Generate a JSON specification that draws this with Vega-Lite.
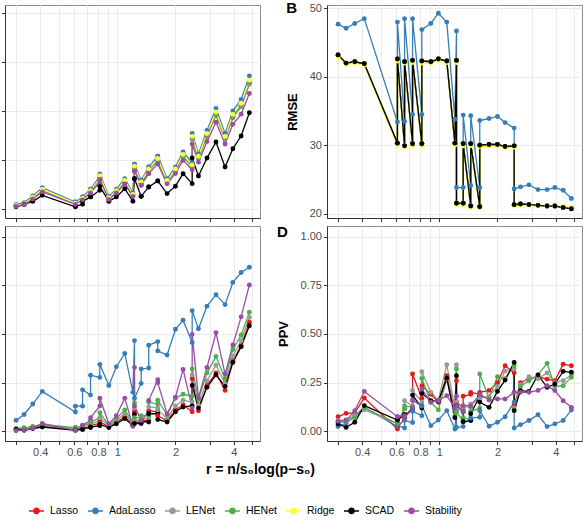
{
  "$schema": "https://vega.github.io/schema/vega-lite/v6.json",
  "padding": {"left": 0, "top": 0, "right": 0, "bottom": 0},
  "background": "white",
  "datasets": {
    "d": [
      {"panel":"A","idx":1,"r":0.3,"Lasso":0.013,"AdaLasso":0.022,"LENet":0.013,"HENet":0.014,"Ridge":0.017,"SCAD":0.009,"Stability":0.012},
      {"panel":"A","idx":2,"r":0.33,"Lasso":0.021,"AdaLasso":0.031,"LENet":0.021,"HENet":0.022,"Ridge":0.025,"SCAD":0.022,"Stability":0.019},
      {"panel":"A","idx":3,"r":0.366,"Lasso":0.054,"AdaLasso":0.065,"LENet":0.054,"HENet":0.055,"Ridge":0.058,"SCAD":0.037,"Stability":0.049},
      {"panel":"A","idx":4,"r":0.41,"Lasso":0.094,"AdaLasso":0.107,"LENet":0.094,"HENet":0.096,"Ridge":0.099,"SCAD":0.068,"Stability":0.086},
      {"panel":"A","idx":5,"r":0.608,"Lasso":0.024,"AdaLasso":0.034,"LENet":0.024,"HENet":0.025,"Ridge":0.028,"SCAD":0.009,"Stability":0.022},
      {"panel":"A","idx":6,"r":0.608,"Lasso":0.024,"AdaLasso":0.034,"LENet":0.024,"HENet":0.025,"Ridge":0.028,"SCAD":0.012,"Stability":0.022},
      {"panel":"A","idx":7,"r":0.662,"Lasso":0.049,"AdaLasso":0.06,"LENet":0.049,"HENet":0.05,"Ridge":0.053,"SCAD":0.022,"Stability":0.045},
      {"panel":"A","idx":8,"r":0.662,"Lasso":0.049,"AdaLasso":0.06,"LENet":0.049,"HENet":0.05,"Ridge":0.053,"SCAD":0.037,"Stability":0.045},
      {"panel":"A","idx":9,"r":0.728,"Lasso":0.087,"AdaLasso":0.1,"LENet":0.087,"HENet":0.089,"Ridge":0.092,"SCAD":0.06,"Stability":0.08},
      {"panel":"A","idx":10,"r":0.728,"Lasso":0.087,"AdaLasso":0.1,"LENet":0.087,"HENet":0.089,"Ridge":0.092,"SCAD":0.06,"Stability":0.08},
      {"panel":"A","idx":11,"r":0.813,"Lasso":0.149,"AdaLasso":0.165,"LENet":0.149,"HENet":0.151,"Ridge":0.156,"SCAD":0.094,"Stability":0.137},
      {"panel":"A","idx":12,"r":0.813,"Lasso":0.161,"AdaLasso":0.178,"LENet":0.161,"HENet":0.163,"Ridge":0.169,"SCAD":0.114,"Stability":0.149},
      {"panel":"A","idx":13,"r":0.905,"Lasso":0.052,"AdaLasso":0.063,"LENet":0.052,"HENet":0.053,"Ridge":0.056,"SCAD":0.037,"Stability":0.047},
      {"panel":"A","idx":14,"r":0.99,"Lasso":0.087,"AdaLasso":0.1,"LENet":0.087,"HENet":0.089,"Ridge":0.092,"SCAD":0.06,"Stability":0.08},
      {"panel":"A","idx":15,"r":1.094,"Lasso":0.137,"AdaLasso":0.153,"LENet":0.138,"HENet":0.14,"Ridge":0.144,"SCAD":0.102,"Stability":0.127},
      {"panel":"A","idx":16,"r":1.205,"Lasso":0.068,"AdaLasso":0.08,"LENet":0.068,"HENet":0.07,"Ridge":0.073,"SCAD":0.038,"Stability":0.062},
      {"panel":"A","idx":17,"r":1.228,"Lasso":0.209,"AdaLasso":0.228,"LENet":0.209,"HENet":0.212,"Ridge":0.217,"SCAD":0.153,"Stability":0.193},
      {"panel":"A","idx":18,"r":1.228,"Lasso":0.209,"AdaLasso":0.228,"LENet":0.209,"HENet":0.212,"Ridge":0.217,"SCAD":0.153,"Stability":0.193},
      {"panel":"A","idx":19,"r":1.33,"Lasso":0.13,"AdaLasso":0.145,"LENet":0.13,"HENet":0.132,"Ridge":0.137,"SCAD":0.063,"Stability":0.12},
      {"panel":"A","idx":20,"r":1.33,"Lasso":0.13,"AdaLasso":0.145,"LENet":0.13,"HENet":0.132,"Ridge":0.137,"SCAD":0.063,"Stability":0.12},
      {"panel":"A","idx":21,"r":1.455,"Lasso":0.195,"AdaLasso":0.213,"LENet":0.195,"HENet":0.198,"Ridge":0.203,"SCAD":0.111,"Stability":0.18},
      {"panel":"A","idx":22,"r":1.455,"Lasso":0.195,"AdaLasso":0.213,"LENet":0.195,"HENet":0.198,"Ridge":0.203,"SCAD":0.111,"Stability":0.18},
      {"panel":"A","idx":23,"r":1.62,"Lasso":0.248,"AdaLasso":0.269,"LENet":0.248,"HENet":0.251,"Ridge":0.257,"SCAD":0.142,"Stability":0.229},
      {"panel":"A","idx":24,"r":1.62,"Lasso":0.248,"AdaLasso":0.269,"LENet":0.248,"HENet":0.251,"Ridge":0.257,"SCAD":0.142,"Stability":0.229},
      {"panel":"A","idx":25,"r":1.81,"Lasso":0.137,"AdaLasso":0.153,"LENet":0.138,"HENet":0.14,"Ridge":0.144,"SCAD":0.077,"Stability":0.127},
      {"panel":"A","idx":26,"r":2.0,"Lasso":0.195,"AdaLasso":0.213,"LENet":0.195,"HENet":0.198,"Ridge":0.203,"SCAD":0.115,"Stability":0.18},
      {"panel":"A","idx":27,"r":2.19,"Lasso":0.268,"AdaLasso":0.29,"LENet":0.268,"HENet":0.271,"Ridge":0.278,"SCAD":0.179,"Stability":0.247},
      {"panel":"A","idx":28,"r":2.44,"Lasso":0.215,"AdaLasso":0.235,"LENet":0.216,"HENet":0.219,"Ridge":0.224,"SCAD":0.128,"Stability":0.199},
      {"panel":"A","idx":29,"r":2.44,"Lasso":0.358,"AdaLasso":0.385,"LENet":0.359,"HENet":0.363,"Ridge":0.37,"SCAD":0.259,"Stability":0.331},
      {"panel":"A","idx":30,"r":2.63,"Lasso":0.258,"AdaLasso":0.28,"LENet":0.259,"HENet":0.262,"Ridge":0.268,"SCAD":0.167,"Stability":0.238},
      {"panel":"A","idx":31,"r":2.91,"Lasso":0.372,"AdaLasso":0.4,"LENet":0.374,"HENet":0.377,"Ridge":0.385,"SCAD":0.259,"Stability":0.344},
      {"panel":"A","idx":32,"r":3.24,"Lasso":0.479,"AdaLasso":0.513,"LENet":0.48,"HENet":0.485,"Ridge":0.495,"SCAD":0.341,"Stability":0.443},
      {"panel":"A","idx":33,"r":3.61,"Lasso":0.358,"AdaLasso":0.385,"LENet":0.359,"HENet":0.363,"Ridge":0.37,"SCAD":0.213,"Stability":0.331},
      {"panel":"A","idx":34,"r":3.96,"Lasso":0.467,"AdaLasso":0.5,"LENet":0.469,"HENet":0.473,"Ridge":0.483,"SCAD":0.307,"Stability":0.432},
      {"panel":"A","idx":35,"r":4.37,"Lasso":0.523,"AdaLasso":0.559,"LENet":0.524,"HENet":0.529,"Ridge":0.54,"SCAD":0.372,"Stability":0.484},
      {"panel":"A","idx":36,"r":4.82,"Lasso":0.638,"AdaLasso":0.68,"LENet":0.64,"HENet":0.646,"Ridge":0.658,"SCAD":0.491,"Stability":0.59},

      {"panel":"B","idx":1,"r":0.3,"Lasso":43.2,"AdaLasso":47.7,"LENet":43.2,"HENet":43.2,"Ridge":42.9,"SCAD":43.2},
      {"panel":"B","idx":2,"r":0.33,"Lasso":42.0,"AdaLasso":47.1,"LENet":42.0,"HENet":42.0,"Ridge":41.8,"SCAD":42.0},
      {"panel":"B","idx":3,"r":0.366,"Lasso":42.2,"AdaLasso":47.8,"LENet":42.2,"HENet":42.2,"Ridge":42.0,"SCAD":42.2},
      {"panel":"B","idx":4,"r":0.41,"Lasso":41.9,"AdaLasso":48.5,"LENet":41.9,"HENet":41.9,"Ridge":41.7,"SCAD":41.9},
      {"panel":"B","idx":5,"r":0.608,"Lasso":30.3,"AdaLasso":33.4,"LENet":30.3,"HENet":30.3,"Ridge":30.0,"SCAD":30.3},
      {"panel":"B","idx":6,"r":0.608,"Lasso":42.6,"AdaLasso":48.0,"LENet":42.6,"HENet":42.6,"Ridge":42.3,"SCAD":42.6},
      {"panel":"B","idx":7,"r":0.662,"Lasso":29.9,"AdaLasso":33.5,"LENet":29.9,"HENet":29.9,"Ridge":29.7,"SCAD":29.9},
      {"panel":"B","idx":8,"r":0.662,"Lasso":42.2,"AdaLasso":48.5,"LENet":42.2,"HENet":42.2,"Ridge":42.0,"SCAD":42.2},
      {"panel":"B","idx":9,"r":0.728,"Lasso":30.2,"AdaLasso":34.5,"LENet":30.2,"HENet":30.2,"Ridge":29.9,"SCAD":30.2},
      {"panel":"B","idx":10,"r":0.728,"Lasso":42.4,"AdaLasso":48.5,"LENet":42.4,"HENet":42.4,"Ridge":42.1,"SCAD":42.4},
      {"panel":"B","idx":11,"r":0.813,"Lasso":30.2,"AdaLasso":34.5,"LENet":30.2,"HENet":30.2,"Ridge":29.9,"SCAD":30.2},
      {"panel":"B","idx":12,"r":0.813,"Lasso":42.3,"AdaLasso":46.9,"LENet":42.3,"HENet":42.3,"Ridge":42.0,"SCAD":42.3},
      {"panel":"B","idx":13,"r":0.905,"Lasso":42.2,"AdaLasso":47.8,"LENet":42.2,"HENet":42.2,"Ridge":42.0,"SCAD":42.2},
      {"panel":"B","idx":14,"r":0.99,"Lasso":42.6,"AdaLasso":49.3,"LENet":42.6,"HENet":42.6,"Ridge":42.4,"SCAD":42.6},
      {"panel":"B","idx":15,"r":1.094,"Lasso":42.3,"AdaLasso":48.0,"LENet":42.3,"HENet":42.3,"Ridge":42.1,"SCAD":42.3},
      {"panel":"B","idx":16,"r":1.205,"Lasso":30.3,"AdaLasso":33.8,"LENet":30.3,"HENet":30.3,"Ridge":30.0,"SCAD":30.3},
      {"panel":"B","idx":17,"r":1.228,"Lasso":42.4,"AdaLasso":46.7,"LENet":42.4,"HENet":42.4,"Ridge":42.1,"SCAD":42.4},
      {"panel":"B","idx":18,"r":1.228,"Lasso":21.5,"AdaLasso":23.8,"LENet":21.5,"HENet":21.5,"Ridge":21.3,"SCAD":21.5},
      {"panel":"B","idx":19,"r":1.33,"Lasso":21.5,"AdaLasso":23.8,"LENet":21.5,"HENet":21.5,"Ridge":21.3,"SCAD":21.5},
      {"panel":"B","idx":20,"r":1.33,"Lasso":30.2,"AdaLasso":34.4,"LENet":30.2,"HENet":30.2,"Ridge":29.9,"SCAD":30.2},
      {"panel":"B","idx":21,"r":1.455,"Lasso":21.1,"AdaLasso":24.1,"LENet":21.1,"HENet":21.1,"Ridge":20.9,"SCAD":21.1},
      {"panel":"B","idx":22,"r":1.455,"Lasso":30.2,"AdaLasso":34.3,"LENet":30.2,"HENet":30.2,"Ridge":29.9,"SCAD":30.2},
      {"panel":"B","idx":23,"r":1.62,"Lasso":21.0,"AdaLasso":23.8,"LENet":21.0,"HENet":21.0,"Ridge":20.8,"SCAD":21.0},
      {"panel":"B","idx":24,"r":1.62,"Lasso":30.0,"AdaLasso":33.6,"LENet":30.0,"HENet":30.0,"Ridge":29.8,"SCAD":30.0},
      {"panel":"B","idx":25,"r":1.81,"Lasso":30.1,"AdaLasso":33.9,"LENet":30.1,"HENet":30.1,"Ridge":29.9,"SCAD":30.1},
      {"panel":"B","idx":26,"r":2.0,"Lasso":30.1,"AdaLasso":34.2,"LENet":30.1,"HENet":30.1,"Ridge":29.9,"SCAD":30.1},
      {"panel":"B","idx":27,"r":2.19,"Lasso":29.8,"AdaLasso":33.3,"LENet":29.8,"HENet":29.8,"Ridge":29.6,"SCAD":29.8},
      {"panel":"B","idx":28,"r":2.44,"Lasso":29.9,"AdaLasso":32.5,"LENet":29.9,"HENet":29.9,"Ridge":29.7,"SCAD":29.9},
      {"panel":"B","idx":29,"r":2.44,"Lasso":21.3,"AdaLasso":23.6,"LENet":21.3,"HENet":21.3,"Ridge":21.1,"SCAD":21.3},
      {"panel":"B","idx":30,"r":2.63,"Lasso":21.4,"AdaLasso":23.9,"LENet":21.4,"HENet":21.4,"Ridge":21.2,"SCAD":21.4},
      {"panel":"B","idx":31,"r":2.91,"Lasso":21.3,"AdaLasso":24.2,"LENet":21.3,"HENet":21.3,"Ridge":21.2,"SCAD":21.3},
      {"panel":"B","idx":32,"r":3.24,"Lasso":21.2,"AdaLasso":23.5,"LENet":21.2,"HENet":21.2,"Ridge":21.1,"SCAD":21.2},
      {"panel":"B","idx":33,"r":3.61,"Lasso":21.1,"AdaLasso":23.5,"LENet":21.1,"HENet":21.1,"Ridge":21.1,"SCAD":21.1},
      {"panel":"B","idx":34,"r":3.96,"Lasso":21.1,"AdaLasso":23.8,"LENet":21.1,"HENet":21.1,"Ridge":21.1,"SCAD":21.1},
      {"panel":"B","idx":35,"r":4.37,"Lasso":20.9,"AdaLasso":23.4,"LENet":20.9,"HENet":20.9,"Ridge":21.0,"SCAD":20.9},
      {"panel":"B","idx":36,"r":4.82,"Lasso":20.7,"AdaLasso":22.2,"LENet":20.7,"HENet":20.7,"Ridge":20.9,"SCAD":20.7},

      {"panel":"C","idx":1,"r":0.3,"Lasso":0.012,"AdaLasso":0.056,"LENet":0.013,"HENet":0.015,"SCAD":0.01,"Stability":0.003},
      {"panel":"C","idx":2,"r":0.33,"Lasso":0.01,"AdaLasso":0.086,"LENet":0.014,"HENet":0.018,"SCAD":0.005,"Stability":0.006},
      {"panel":"C","idx":3,"r":0.366,"Lasso":0.018,"AdaLasso":0.14,"LENet":0.02,"HENet":0.025,"SCAD":0.014,"Stability":0.016},
      {"panel":"C","idx":4,"r":0.41,"Lasso":0.028,"AdaLasso":0.205,"LENet":0.03,"HENet":0.035,"SCAD":0.022,"Stability":0.04},
      {"panel":"C","idx":5,"r":0.608,"Lasso":0.008,"AdaLasso":0.099,"LENet":0.012,"HENet":0.018,"SCAD":0.005,"Stability":0.005},
      {"panel":"C","idx":6,"r":0.608,"Lasso":0.01,"AdaLasso":0.129,"LENet":0.014,"HENet":0.02,"SCAD":0.007,"Stability":0.005},
      {"panel":"C","idx":7,"r":0.662,"Lasso":0.013,"AdaLasso":0.129,"LENet":0.018,"HENet":0.025,"SCAD":0.009,"Stability":0.025},
      {"panel":"C","idx":8,"r":0.662,"Lasso":0.016,"AdaLasso":0.213,"LENet":0.022,"HENet":0.03,"SCAD":0.012,"Stability":0.031},
      {"panel":"C","idx":9,"r":0.728,"Lasso":0.025,"AdaLasso":0.186,"LENet":0.032,"HENet":0.04,"SCAD":0.019,"Stability":0.055},
      {"panel":"C","idx":10,"r":0.728,"Lasso":0.03,"AdaLasso":0.288,"LENet":0.037,"HENet":0.045,"SCAD":0.022,"Stability":0.07},
      {"panel":"C","idx":11,"r":0.813,"Lasso":0.04,"AdaLasso":0.277,"LENet":0.055,"HENet":0.07,"SCAD":0.029,"Stability":0.13},
      {"panel":"C","idx":12,"r":0.813,"Lasso":0.05,"AdaLasso":0.344,"LENet":0.07,"HENet":0.095,"SCAD":0.035,"Stability":0.17},
      {"panel":"C","idx":13,"r":0.905,"Lasso":0.022,"AdaLasso":0.235,"LENet":0.026,"HENet":0.03,"SCAD":0.019,"Stability":0.039},
      {"panel":"C","idx":14,"r":0.99,"Lasso":0.045,"AdaLasso":0.332,"LENet":0.055,"HENet":0.065,"SCAD":0.039,"Stability":0.08},
      {"panel":"C","idx":15,"r":1.094,"Lasso":0.075,"AdaLasso":0.4,"LENet":0.09,"HENet":0.11,"SCAD":0.065,"Stability":0.17},
      {"panel":"C","idx":16,"r":1.205,"Lasso":0.033,"AdaLasso":0.2,"LENet":0.038,"HENet":0.045,"SCAD":0.03,"Stability":0.025},
      {"panel":"C","idx":17,"r":1.228,"Lasso":0.1,"AdaLasso":0.466,"LENet":0.12,"HENet":0.145,"SCAD":0.087,"Stability":0.328},
      {"panel":"C","idx":18,"r":1.228,"Lasso":0.045,"AdaLasso":0.17,"LENet":0.055,"HENet":0.07,"SCAD":0.04,"Stability":0.13},
      {"panel":"C","idx":19,"r":1.33,"Lasso":0.048,"AdaLasso":0.246,"LENet":0.058,"HENet":0.07,"SCAD":0.04,"Stability":0.056},
      {"panel":"C","idx":20,"r":1.33,"Lasso":0.058,"AdaLasso":0.32,"LENet":0.068,"HENet":0.08,"SCAD":0.05,"Stability":0.056},
      {"panel":"C","idx":21,"r":1.455,"Lasso":0.055,"AdaLasso":0.325,"LENet":0.065,"HENet":0.08,"SCAD":0.048,"Stability":0.1},
      {"panel":"C","idx":22,"r":1.455,"Lasso":0.105,"AdaLasso":0.442,"LENet":0.125,"HENet":0.15,"SCAD":0.09,"Stability":0.158},
      {"panel":"C","idx":23,"r":1.62,"Lasso":0.1,"AdaLasso":0.461,"LENet":0.12,"HENet":0.14,"SCAD":0.09,"Stability":0.265},
      {"panel":"C","idx":24,"r":1.62,"Lasso":0.08,"AdaLasso":0.413,"LENet":0.11,"HENet":0.16,"SCAD":0.06,"Stability":0.25},
      {"panel":"C","idx":25,"r":1.81,"Lasso":0.055,"AdaLasso":0.392,"LENet":0.065,"HENet":0.085,"SCAD":0.048,"Stability":0.09},
      {"panel":"C","idx":26,"r":2.0,"Lasso":0.11,"AdaLasso":0.524,"LENet":0.13,"HENet":0.17,"SCAD":0.1,"Stability":0.175},
      {"panel":"C","idx":27,"r":2.19,"Lasso":0.135,"AdaLasso":0.571,"LENet":0.16,"HENet":0.19,"SCAD":0.125,"Stability":0.318},
      {"panel":"C","idx":28,"r":2.44,"Lasso":0.1,"AdaLasso":0.456,"LENet":0.15,"HENet":0.18,"SCAD":0.13,"Stability":0.12},
      {"panel":"C","idx":29,"r":2.44,"Lasso":0.27,"AdaLasso":0.62,"LENet":0.29,"HENet":0.32,"SCAD":0.235,"Stability":0.498},
      {"panel":"C","idx":30,"r":2.63,"Lasso":0.105,"AdaLasso":0.527,"LENet":0.135,"HENet":0.165,"SCAD":0.119,"Stability":0.172},
      {"panel":"C","idx":31,"r":2.91,"Lasso":0.235,"AdaLasso":0.643,"LENet":0.26,"HENet":0.3,"SCAD":0.226,"Stability":0.328},
      {"panel":"C","idx":32,"r":3.24,"Lasso":0.3,"AdaLasso":0.702,"LENet":0.34,"HENet":0.385,"SCAD":0.29,"Stability":0.507},
      {"panel":"C","idx":33,"r":3.61,"Lasso":0.21,"AdaLasso":0.651,"LENet":0.245,"HENet":0.27,"SCAD":0.231,"Stability":0.294},
      {"panel":"C","idx":34,"r":3.96,"Lasso":0.36,"AdaLasso":0.765,"LENet":0.385,"HENet":0.42,"SCAD":0.354,"Stability":0.444},
      {"panel":"C","idx":35,"r":4.37,"Lasso":0.44,"AdaLasso":0.816,"LENet":0.465,"HENet":0.495,"SCAD":0.435,"Stability":0.588},
      {"panel":"C","idx":36,"r":4.82,"Lasso":0.56,"AdaLasso":0.843,"LENet":0.585,"HENet":0.612,"SCAD":0.542,"Stability":0.752},

      {"panel":"D","idx":1,"r":0.3,"Lasso":0.075,"AdaLasso":0.024,"LENet":0.055,"HENet":0.045,"SCAD":0.038,"Stability":0.051},
      {"panel":"D","idx":2,"r":0.33,"Lasso":0.092,"AdaLasso":0.041,"LENet":0.06,"HENet":0.05,"SCAD":0.02,"Stability":0.055},
      {"panel":"D","idx":3,"r":0.366,"Lasso":0.095,"AdaLasso":0.08,"LENet":0.08,"HENet":0.07,"SCAD":0.046,"Stability":0.106},
      {"panel":"D","idx":4,"r":0.41,"Lasso":0.171,"AdaLasso":0.123,"LENet":0.11,"HENet":0.12,"SCAD":0.132,"Stability":0.205},
      {"panel":"D","idx":5,"r":0.608,"Lasso":0.012,"AdaLasso":0.024,"LENet":0.04,"HENet":0.04,"SCAD":0.058,"Stability":0.075},
      {"panel":"D","idx":6,"r":0.608,"Lasso":0.02,"AdaLasso":0.03,"LENet":0.045,"HENet":0.045,"SCAD":0.058,"Stability":0.075},
      {"panel":"D","idx":7,"r":0.662,"Lasso":0.063,"AdaLasso":0.017,"LENet":0.115,"HENet":0.115,"SCAD":0.085,"Stability":0.08},
      {"panel":"D","idx":8,"r":0.662,"Lasso":0.07,"AdaLasso":0.055,"LENet":0.157,"HENet":0.13,"SCAD":0.085,"Stability":0.08},
      {"panel":"D","idx":9,"r":0.728,"Lasso":0.12,"AdaLasso":0.045,"LENet":0.13,"HENet":0.123,"SCAD":0.11,"Stability":0.12},
      {"panel":"D","idx":10,"r":0.728,"Lasso":0.294,"AdaLasso":0.103,"LENet":0.21,"HENet":0.16,"SCAD":0.186,"Stability":0.16},
      {"panel":"D","idx":11,"r":0.813,"Lasso":0.17,"AdaLasso":0.08,"LENet":0.15,"HENet":0.13,"SCAD":0.12,"Stability":0.13},
      {"panel":"D","idx":12,"r":0.813,"Lasso":0.234,"AdaLasso":0.132,"LENet":0.306,"HENet":0.272,"SCAD":0.195,"Stability":0.217},
      {"panel":"D","idx":13,"r":0.905,"Lasso":0.19,"AdaLasso":0.029,"LENet":0.2,"HENet":0.149,"SCAD":0.157,"Stability":0.149},
      {"panel":"D","idx":14,"r":0.99,"Lasso":0.149,"AdaLasso":0.058,"LENet":0.16,"HENet":0.11,"SCAD":0.154,"Stability":0.157},
      {"panel":"D","idx":15,"r":1.094,"Lasso":0.285,"AdaLasso":0.106,"LENet":0.342,"HENet":0.27,"SCAD":0.273,"Stability":0.183},
      {"panel":"D","idx":16,"r":1.205,"Lasso":0.1,"AdaLasso":0.012,"LENet":0.12,"HENet":0.08,"SCAD":0.07,"Stability":0.12},
      {"panel":"D","idx":17,"r":1.228,"Lasso":0.26,"AdaLasso":0.106,"LENet":0.342,"HENet":0.32,"SCAD":0.285,"Stability":0.18},
      {"panel":"D","idx":18,"r":1.228,"Lasso":0.15,"AdaLasso":0.02,"LENet":0.15,"HENet":0.1,"SCAD":0.132,"Stability":0.13},
      {"panel":"D","idx":19,"r":1.33,"Lasso":0.12,"AdaLasso":0.024,"LENet":0.11,"HENet":0.05,"SCAD":0.1,"Stability":0.1},
      {"panel":"D","idx":20,"r":1.33,"Lasso":0.18,"AdaLasso":0.046,"LENet":0.13,"HENet":0.07,"SCAD":0.05,"Stability":0.132},
      {"panel":"D","idx":21,"r":1.455,"Lasso":0.19,"AdaLasso":0.055,"LENet":0.12,"HENet":0.06,"SCAD":0.055,"Stability":0.132},
      {"panel":"D","idx":22,"r":1.455,"Lasso":0.2,"AdaLasso":0.068,"LENet":0.14,"HENet":0.1,"SCAD":0.09,"Stability":0.13},
      {"panel":"D","idx":23,"r":1.62,"Lasso":0.19,"AdaLasso":0.072,"LENet":0.17,"HENet":0.12,"SCAD":0.18,"Stability":0.19},
      {"panel":"D","idx":24,"r":1.62,"Lasso":0.2,"AdaLasso":0.106,"LENet":0.17,"HENet":0.294,"SCAD":0.15,"Stability":0.19},
      {"panel":"D","idx":25,"r":1.81,"Lasso":0.21,"AdaLasso":0.026,"LENet":0.18,"HENet":0.17,"SCAD":0.123,"Stability":0.16},
      {"panel":"D","idx":26,"r":2.0,"Lasso":0.25,"AdaLasso":0.046,"LENet":0.23,"HENet":0.28,"SCAD":0.205,"Stability":0.166},
      {"panel":"D","idx":27,"r":2.19,"Lasso":0.337,"AdaLasso":0.075,"LENet":0.31,"HENet":0.27,"SCAD":0.263,"Stability":0.166},
      {"panel":"D","idx":28,"r":2.44,"Lasso":0.3,"AdaLasso":0.149,"LENet":0.32,"HENet":0.337,"SCAD":0.354,"Stability":0.2},
      {"panel":"D","idx":29,"r":2.44,"Lasso":0.13,"AdaLasso":0.017,"LENet":0.12,"HENet":0.11,"SCAD":0.106,"Stability":0.2},
      {"panel":"D","idx":30,"r":2.63,"Lasso":0.25,"AdaLasso":0.034,"LENet":0.24,"HENet":0.23,"SCAD":0.209,"Stability":0.2},
      {"panel":"D","idx":31,"r":2.91,"Lasso":0.27,"AdaLasso":0.055,"LENet":0.28,"HENet":0.26,"SCAD":0.205,"Stability":0.2},
      {"panel":"D","idx":32,"r":3.24,"Lasso":0.28,"AdaLasso":0.085,"LENet":0.27,"HENet":0.29,"SCAD":0.29,"Stability":0.21},
      {"panel":"D","idx":33,"r":3.61,"Lasso":0.268,"AdaLasso":0.024,"LENet":0.3,"HENet":0.349,"SCAD":0.226,"Stability":0.234},
      {"panel":"D","idx":34,"r":3.96,"Lasso":0.26,"AdaLasso":0.038,"LENet":0.25,"HENet":0.23,"SCAD":0.243,"Stability":0.209},
      {"panel":"D","idx":35,"r":4.37,"Lasso":0.345,"AdaLasso":0.055,"LENet":0.26,"HENet":0.234,"SCAD":0.308,"Stability":0.157},
      {"panel":"D","idx":36,"r":4.82,"Lasso":0.337,"AdaLasso":0.109,"LENet":0.29,"HENet":0.277,"SCAD":0.303,"Stability":0.123}
    ]
  },
  "columns": 2,
  "spacing": {"row": 8, "column": 67},
  "bounds": "flush",
  "concat": [
    {
      "width": 255, "height": 213,
      "data": {"name": "d"},
      "transform": [
        {"filter": "datum.panel == 'A'"},
        {"fold": ["Lasso","AdaLasso","LENet","HENet","Ridge","SCAD","Stability"], "as": ["method","value"]},
        {"filter": "isValid(datum.value)"}
      ],
      "encoding": {
        "x": {"field": "r", "type": "quantitative", "scale": {"type": "log", "domain": [0.263, 5.47], "nice": false},
              "axis": {"values": [0.3,0.4,0.5,0.6,0.7,0.8,0.9,1,2,3,4,5], "labels": false, "title": null}},
        "y": {"field": "value", "type": "quantitative", "scale": {"domain": [-0.048, 1.043], "nice": false, "zero": false},
              "axis": {"values": [0,0.25,0.5,0.75,1], "labels": false, "title": null}},
        "color": {"field": "method", "type": "nominal",
                  "scale": {"domain": ["Lasso","AdaLasso","LENet","HENet","Ridge","SCAD","Stability"],
                            "range": ["#E41A1C","#377EB8","#999999","#4DAF4A","#FFFF33","#000000","#984EA3"]},
                  "legend": {"orient": "none", "legendX": 23, "legendY": 497, "direction": "horizontal"}}
      },
      "layer": [
        {"mark": {"type": "line", "strokeWidth": 1.3}, "encoding": {"order": {"field": "idx", "type": "quantitative"}}},
        {"mark": {"type": "point", "filled": true, "size": 24, "opacity": 1}}
      ]
    },
    {
      "width": 255, "height": 213,
      "title": {"text": "B", "anchor": "start", "frame": "bounds", "orient": "top", "offset": -14, "fontSize": 15, "fontWeight": "bold", "color": "#000000"},
      "data": {"name": "d"},
      "transform": [
        {"filter": "datum.panel == 'B'"},
        {"fold": ["Lasso","AdaLasso","LENet","HENet","Ridge","SCAD","Stability"], "as": ["method","value"]},
        {"filter": "isValid(datum.value)"}
      ],
      "encoding": {
        "x": {"field": "r", "type": "quantitative", "scale": {"type": "log", "domain": [0.263, 5.47], "nice": false},
              "axis": {"values": [0.3,0.4,0.5,0.6,0.7,0.8,0.9,1,2,3,4,5], "labels": false, "title": null}},
        "y": {"field": "value", "type": "quantitative", "scale": {"domain": [19.35, 50.5], "nice": false, "zero": false},
              "axis": {"values": [20,30,40,50], "title": "RMSE", "titlePadding": 10}},
        "color": {"field": "method", "type": "nominal",
                  "scale": {"domain": ["Lasso","AdaLasso","LENet","HENet","Ridge","SCAD","Stability"],
                            "range": ["#E41A1C","#377EB8","#999999","#4DAF4A","#FFFF33","#000000","#984EA3"]}}
      },
      "layer": [
        {"mark": {"type": "line", "strokeWidth": 1.3}, "encoding": {"order": {"field": "idx", "type": "quantitative"}}},
        {"mark": {"type": "point", "filled": true, "size": 24, "opacity": 1}}
      ]
    },
    {
      "width": 255, "height": 215,
      "data": {"name": "d"},
      "transform": [
        {"filter": "datum.panel == 'C'"},
        {"fold": ["Lasso","AdaLasso","LENet","HENet","Ridge","SCAD","Stability"], "as": ["method","value"]},
        {"filter": "isValid(datum.value)"}
      ],
      "encoding": {
        "x": {"field": "r", "type": "quantitative", "scale": {"type": "log", "domain": [0.263, 5.47], "nice": false},
              "axis": {"values": [0.3,0.4,0.5,0.6,0.7,0.8,0.9,1,2,3,4,5], "format": ".1~f",
                       "labelExpr": "indexof([0.4,0.6,0.8,1,2,4], datum.value) >= 0 ? datum.label : ''",
                       "title": "r = n/s₀log(p−s₀)", "titleAnchor": "end", "titleAlign": "center", "titlePadding": 5, "titleFontSize": 14}},
        "y": {"field": "value", "type": "quantitative", "scale": {"domain": [-0.05, 1.055], "nice": false, "zero": false},
              "axis": {"values": [0,0.25,0.5,0.75,1], "labels": false, "title": null}},
        "color": {"field": "method", "type": "nominal",
                  "scale": {"domain": ["Lasso","AdaLasso","LENet","HENet","Ridge","SCAD","Stability"],
                            "range": ["#E41A1C","#377EB8","#999999","#4DAF4A","#FFFF33","#000000","#984EA3"]}}
      },
      "layer": [
        {"mark": {"type": "line", "strokeWidth": 1.3}, "encoding": {"order": {"field": "idx", "type": "quantitative"}}},
        {"mark": {"type": "point", "filled": true, "size": 24, "opacity": 1}}
      ]
    },
    {
      "width": 255, "height": 215,
      "title": {"text": "D", "anchor": "start", "frame": "bounds", "orient": "top", "offset": -14, "fontSize": 15, "fontWeight": "bold", "color": "#000000"},
      "data": {"name": "d"},
      "transform": [
        {"filter": "datum.panel == 'D'"},
        {"fold": ["Lasso","AdaLasso","LENet","HENet","Ridge","SCAD","Stability"], "as": ["method","value"]},
        {"filter": "isValid(datum.value)"}
      ],
      "encoding": {
        "x": {"field": "r", "type": "quantitative", "scale": {"type": "log", "domain": [0.263, 5.47], "nice": false},
              "axis": {"values": [0.3,0.4,0.5,0.6,0.7,0.8,0.9,1,2,3,4,5], "format": ".1~f",
                       "labelExpr": "indexof([0.4,0.6,0.8,1,2,4], datum.value) >= 0 ? datum.label : ''", "title": null}},
        "y": {"field": "value", "type": "quantitative", "scale": {"domain": [-0.05, 1.055], "nice": false, "zero": false},
              "axis": {"values": [0,0.25,0.5,0.75,1], "format": ".2f", "title": "PPV", "titlePadding": 10}},
        "color": {"field": "method", "type": "nominal",
                  "scale": {"domain": ["Lasso","AdaLasso","LENet","HENet","Ridge","SCAD","Stability"],
                            "range": ["#E41A1C","#377EB8","#999999","#4DAF4A","#FFFF33","#000000","#984EA3"]}}
      },
      "layer": [
        {"mark": {"type": "line", "strokeWidth": 1.3}, "encoding": {"order": {"field": "idx", "type": "quantitative"}}},
        {"mark": {"type": "point", "filled": true, "size": 24, "opacity": 1}}
      ]
    }
  ],
  "config": {
    "font": "Liberation Sans",
    "view": {"stroke": "#8C8C8C", "strokeWidth": 1},
    "axis": {"grid": true, "gridColor": "#EBEBEB", "gridWidth": 1, "domainColor": "#333333", "domainWidth": 1,
             "tickColor": "#333333", "tickSize": 3.5, "labelColor": "#4D4D4D", "labelFontSize": 11, "labelPadding": 2,
             "titleFontSize": 13, "titleFontWeight": "bold", "titleColor": "#000000"},
    "legend": {"title": null, "labelFontSize": 10.5, "labelColor": "#000000",
               "symbolType": "M-1,0H1M-0.35,0A0.35,0.35 0 1,0 0.35,0A0.35,0.35 0 1,0 -0.35,0Z", "symbolSize": 225,
               "symbolStrokeWidth": 1.5, "columnPadding": 6, "labelOffset": 5}
  }
}
